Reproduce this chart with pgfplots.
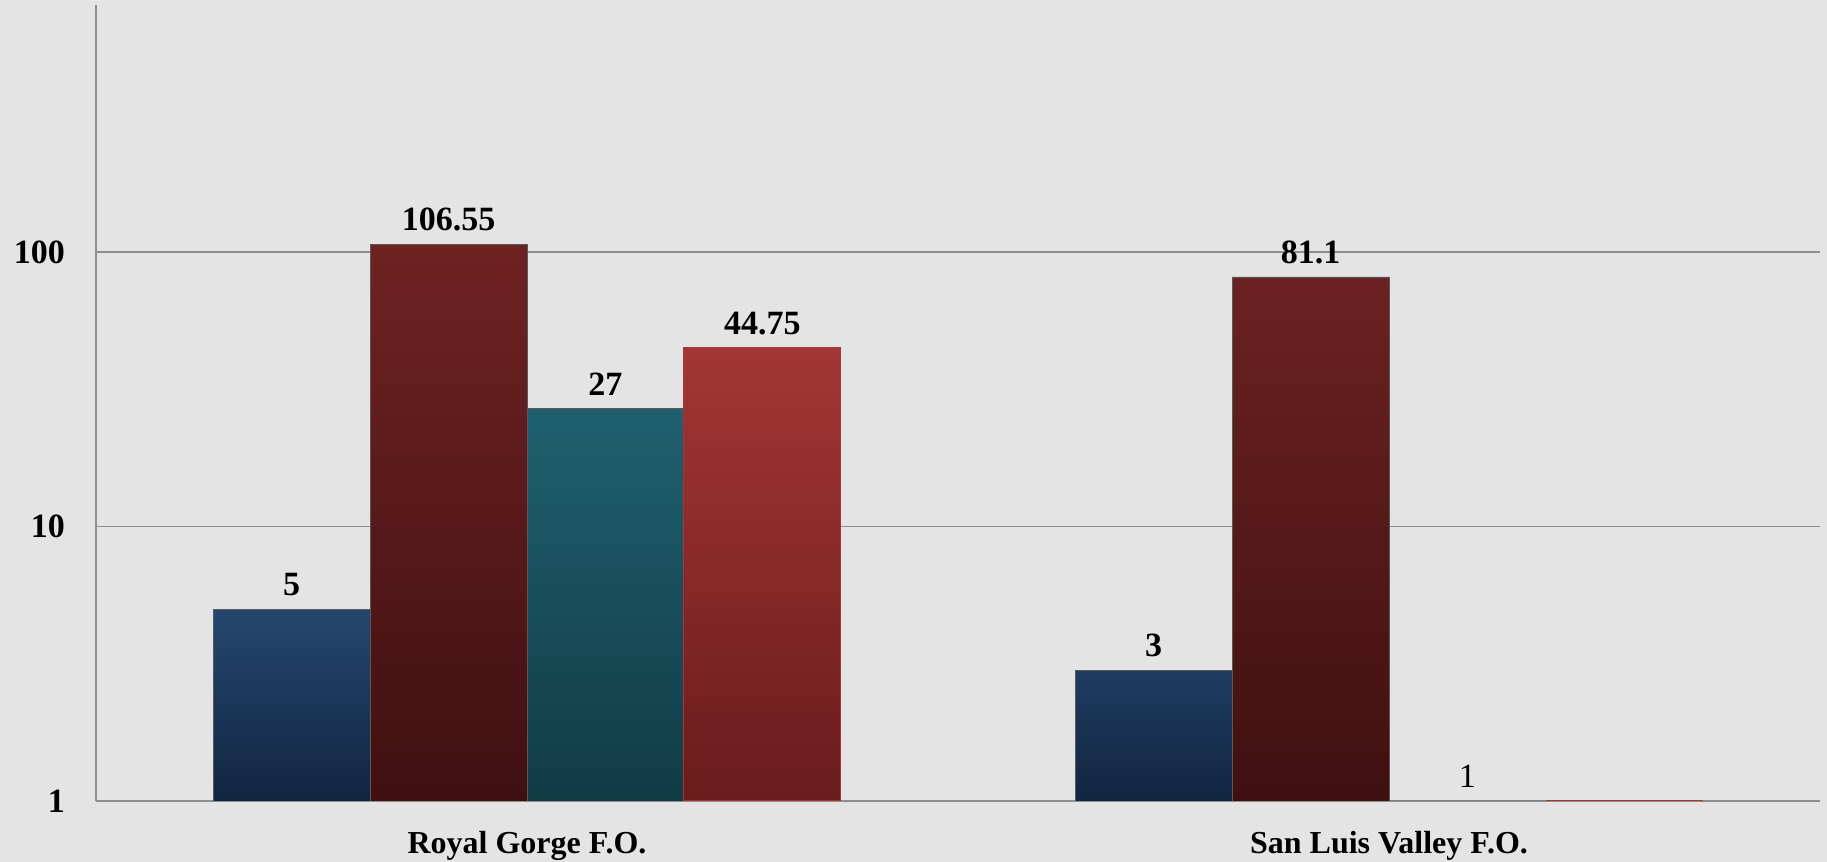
\documentclass[border=0pt]{standalone}
\usepackage{fontspec}
\setmainfont{Liberation Serif}
\usepackage{pgfplots}
\pgfplotsset{compat=1.18}
\definecolor{bg}{HTML}{E4E4E4}
\definecolor{gridgray}{HTML}{8E8E8E}
\definecolor{blueTop}{HTML}{25476F}
\definecolor{blueBot}{HTML}{112540}
\definecolor{maroonTop}{HTML}{6E2222}
\definecolor{maroonBot}{HTML}{401010}
\definecolor{tealTop}{HTML}{20606F}
\definecolor{tealBot}{HTML}{103B45}
\definecolor{redTop}{HTML}{A33636}
\definecolor{redBot}{HTML}{6A1B1B}

\begin{document}
\begin{tikzpicture}
\fill[bg] (-48pt,-30.5pt) rectangle (865.5pt,400.5pt);
\begin{axis}[
    at={(0pt,0pt)}, anchor=south west,
    scale only axis, width=862pt, height=398pt,
    ymode=log, log basis y=10,
    ymin=1, ymax=794,
    xmin=-0.5, xmax=1.5,
    ybar=0pt, bar width=0.182,
    axis lines=left,
    axis line style={-, draw=gridgray, line width=0.7pt},
    ytick={1,10,100},
    log ticks with fixed point,
    yminorticks=false,
    xtick={0,1},
    xticklabels={Royal Gorge F.O., San Luis Valley F.O.},
    major tick length=0pt,
    ymajorgrids,
    grid style={draw=gridgray, line width=0.7pt},
    tick label style={font=\fontsize{17}{20}\selectfont\bfseries, text=black},
    /pgf/number format/assume math mode=true,
    yticklabel style={xshift=-12pt},
    xticklabel style={yshift=-11.5pt, font=\fontsize{16}{19}\selectfont\bfseries},
    point meta=explicit symbolic,
    nodes near coords,
    nodes near coords style={font=\fontsize{17}{20}\selectfont\bfseries,
        text=black, anchor=south, yshift=3pt},
]
% series 1 (blue)
\addplot[top color=blueTop, bottom color=blueBot, draw=gray!70!black, line width=0.4pt]
    coordinates {(0,5) [5] (1,3) [3]};
% series 2 (dark red)
\addplot[top color=maroonTop, bottom color=maroonBot, draw=gray!70!black, line width=0.4pt]
    coordinates {(0,106.55) [106.55] (1,81.1) [81.1]};
% series 3 (teal)
\addplot[top color=tealTop, bottom color=tealBot, draw=gray!70!black, line width=0.4pt]
    coordinates {(0,27) [27] (1,1) [\mdseries 1]};
% series 4 (red)
\addplot[top color=redTop, bottom color=redBot, draw=redTop, line width=0.6pt]
    coordinates {(0,44.75) [44.75] (1,1) []};
\end{axis}
\pgfresetboundingbox
\path[use as bounding box] (-48pt,-30.5pt) rectangle (865.5pt,400.5pt);
\end{tikzpicture}
\end{document}
